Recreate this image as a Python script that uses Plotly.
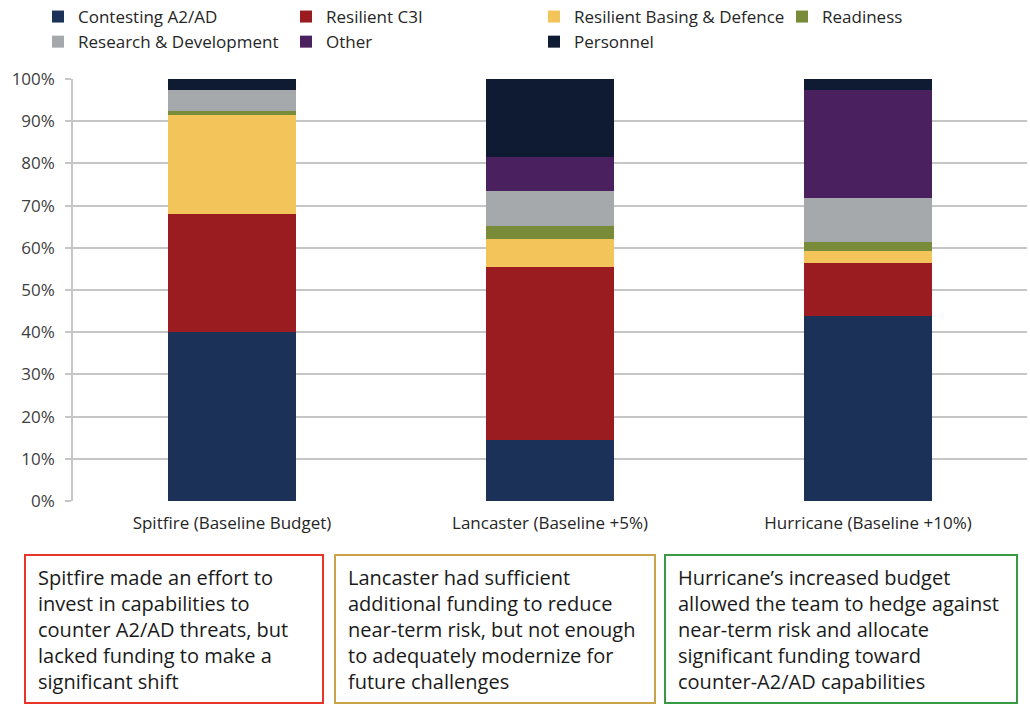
import plotly.graph_objects as go

# Budget allocation share (%) per scenario team
scenarios = ["Spitfire (Baseline Budget)", "Lancaster (Baseline +5%)", "Hurricane (Baseline +10%)"]
contesting_a2ad = [40.0, 14.5, 43.9]
resilient_c3i = [28.0, 40.9, 12.4]
basing_defence = [23.5, 6.6, 3.0]
readiness = [0.8, 3.2, 2.1]
research_dev = [5.0, 8.3, 10.5]
other = [0.0, 8.1, 25.5]
personnel = [2.7, 18.4, 2.6]

series_names = ["Contesting A2/AD", "Resilient C3I", "Resilient Basing & Defence", "Readiness",
                "Research & Development", "Other", "Personnel"]
series_values = [contesting_a2ad, resilient_c3i, basing_defence, readiness,
                 research_dev, other, personnel]
series_colors = ["#1b3158", "#9b1c20", "#f3c45a", "#778b38", "#a5a9ac", "#4b205f", "#0f1b33"]

commentary = [
    "Spitfire made an effort to<br>invest in capabilities to<br>counter A2/AD threats, but<br>lacked funding to make a<br>significant shift",
    "Lancaster had sufficient<br>additional funding to reduce<br>near-term risk, but not enough<br>to adequately modernize for<br>future challenges",
    "Hurricane\u2019s increased budget<br>allowed the team to hedge against<br>near-term risk and allocate<br>significant funding toward<br>counter-A2/AD capabilities",
]
box_colors = ["#e8352a", "#c9a24a", "#3a9a44"]
box_x = [(25, 323), (335, 655), (665, 1017)]

W, H = 1030, 705
ML, MR, MT, MB = 73, 3, 79, 204
PW, PH = W - ML - MR, H - MT - MB
FONT = "Open Sans, Roboto, Liberation Sans, Arial, sans-serif"


def px_x(x):
    return (x - ML) / PW


def px_y(y):
    return (H - MB - y) / PH


fig = go.Figure()
for name, vals, col in zip(series_names, series_values, series_colors):
    fig.add_trace(go.Bar(
        x=scenarios, y=vals, name=name,
        marker=dict(color=col, line=dict(width=0)),
        width=0.4,
    ))

fig.update_layout(
    width=W, height=H,
    margin=dict(l=ML, r=MR, t=MT, b=MB, autoexpand=False),
    barmode="stack",
    plot_bgcolor="white", paper_bgcolor="white",
    font=dict(family=FONT, color="#262626"),
    legend=dict(
        orientation="h", traceorder="normal",
        x=px_x(38), y=px_y(-1), xanchor="left", yanchor="top",
        entrywidth=203, entrywidthmode="pixels",
        font=dict(size=17, color="#262626"),
        itemclick=False, itemdoubleclick=False,
    ),
    xaxis=dict(
        showgrid=False, showline=False, ticks="",
        tickfont=dict(size=17, color="#262626"),
        ticklabelstandoff=10,
    ),
    yaxis=dict(
        range=[0, 100], dtick=10, ticksuffix="%",
        showgrid=True, gridcolor="#c6c6c6", gridwidth=1.5,
        showline=True, linecolor="#c6c6c6", linewidth=1.5,
        ticks="outside", ticklen=6, tickcolor="#c6c6c6", tickwidth=1.5,
        tickfont=dict(size=17, color="#404040"),
        ticklabelstandoff=7,
        zeroline=False,
    ),
)

# commentary boxes beneath each scenario
for (x0, x1), col, txt in zip(box_x, box_colors, commentary):
    fig.add_shape(type="rect", xref="paper", yref="paper",
                  x0=px_x(x0), x1=px_x(x1), y0=px_y(703), y1=px_y(555),
                  line=dict(color=col, width=2), fillcolor="rgba(0,0,0,0)")
    fig.add_annotation(xref="paper", yref="paper",
                       x=px_x(x0 + 11), y=px_y(562),
                       xanchor="left", yanchor="top", align="left", showarrow=False,
                       text=txt, font=dict(size=20, color="#1a1a1a"))

fig.write_html("out.html")
